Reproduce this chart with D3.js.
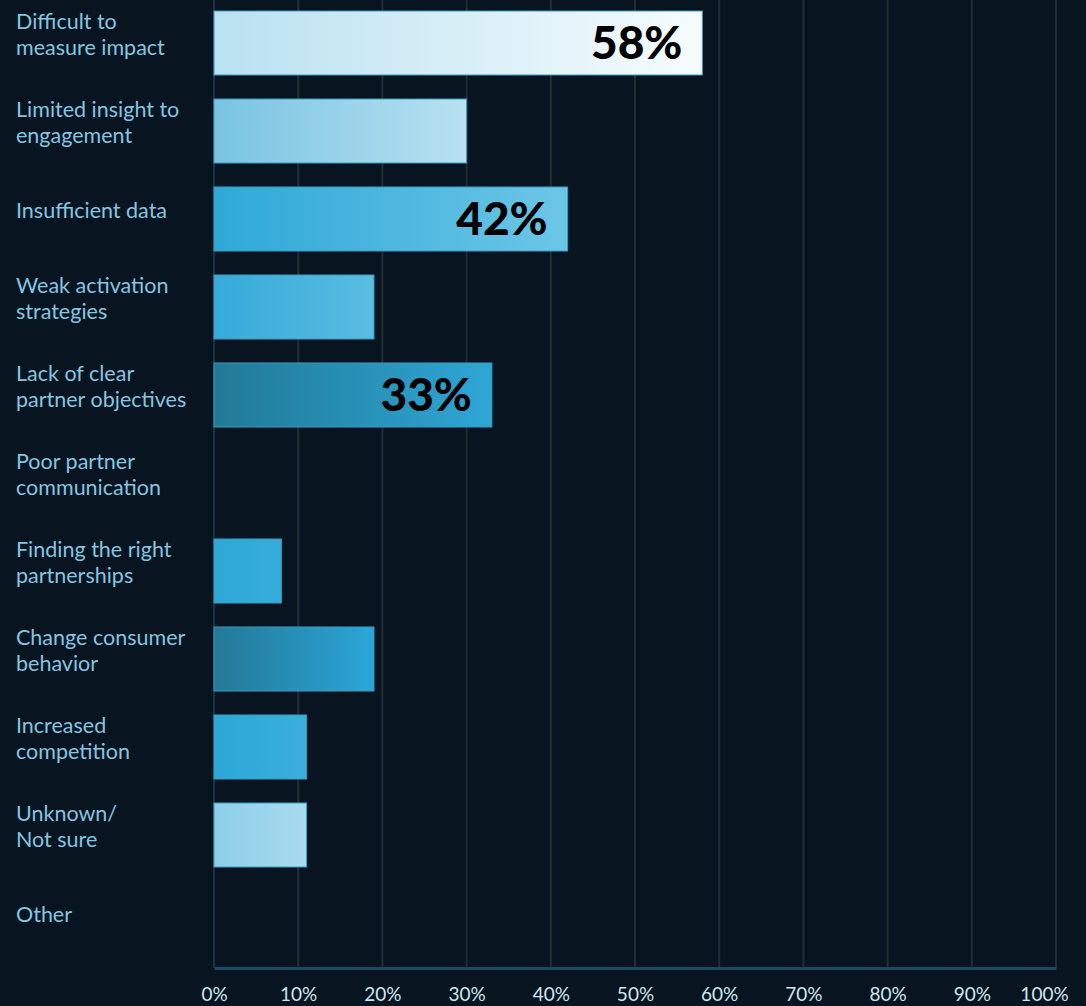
<!DOCTYPE html>
<head>
    <meta charset="utf-8">
    <title>Partnership challenges</title>
</head>
<script src="https://d3js.org/d3.v7.min.js"></script>

<div id="graph"></div>

<script>
    // categories, each label split into its lines
    var categories = [
        ["Difficult to", "measure impact"],
        ["Limited insight to", "engagement"],
        ["Insufficient data"],
        ["Weak activation", "strategies"],
        ["Lack of clear", "partner objectives"],
        ["Poor partner", "communication"],
        ["Finding the right", "partnerships"],
        ["Change consumer", "behavior"],
        ["Increased", "competition"],
        ["Unknown/", "Not sure"],
        ["Other"]
    ];
    var values = [58, 30, 42, 19, 33, 0, 8, 19, 11, 11, 0];
    // which bars carry a printed value
    var showValue = [true, false, true, false, true, false, false, false, false, false, false];
    // gradient start / end colour per bar
    var colorStart = ["#b9e1f0", "#79c4e2", "#2ea8d8", "#35aad9", "#217996", "#2aa3d6", "#2ea8d8", "#237896", "#2aa8d8", "#8dcfe9", "#8dcfe9"];
    var colorEnd   = ["#f6fcfe", "#b8e1f1", "#6cc6e6", "#5bbde2", "#2ea6d6", "#2aa3d6", "#36acda", "#2ba6da", "#3caedc", "#a9dbee", "#a9dbee"];
    var ticks = [0, 10, 20, 30, 40, 50, 60, 70, 80, 90, 100];

    var rows = categories.map(function(c, i) {
        return { i: i, lines: c, value: values[i], show: showValue[i] };
    });

    var W = 1086, H = 1006;
    var svg = d3.select("#graph").append("svg")
        .attr("width", W)
        .attr("height", H);

    svg.append("rect").attr("width", W).attr("height", H).attr("fill", "#08141f");

    var x = d3.scaleLinear().domain([0, 100]).range([214, 1056]);
    var y = d3.scaleBand()
        .domain(d3.range(categories.length))
        .range([11, 955])
        .paddingInner(0.2727)
        .paddingOuter(0);

    var axisY = 968;

    // gradients
    var defs = svg.append("defs");
    rows.forEach(function(r) {
        var g = defs.append("linearGradient").attr("id", "grad" + r.i)
            .attr("x1", "0%").attr("x2", "100%").attr("y1", "0%").attr("y2", "0%");
        g.append("stop").attr("offset", "0%").attr("stop-color", colorStart[r.i]);
        g.append("stop").attr("offset", "100%").attr("stop-color", colorEnd[r.i]);
    });

    // vertical grid lines
    svg.append("g").selectAll("line")
        .data(ticks.slice(1))
        .enter().append("line")
        .attr("x1", function(d) { return x(d); })
        .attr("x2", function(d) { return x(d); })
        .attr("y1", 0)
        .attr("y2", axisY)
        .attr("stroke", "#222e31")
        .attr("stroke-width", 2);

    // left axis line
    svg.append("line")
        .attr("x1", x(0)).attr("x2", x(0))
        .attr("y1", 0).attr("y2", axisY)
        .attr("stroke", "#123446")
        .attr("stroke-width", 2);

    // bottom axis
    var xAxis = d3.axisBottom(x)
        .tickValues(ticks)
        .tickSize(0)
        .tickPadding(20)
        .tickFormat(function(d) { return d + "%"; });

    var xGroup = svg.append("g")
        .attr("transform", "translate(0," + axisY + ")")
        .call(xAxis);
    xGroup.select(".domain").attr("stroke", "#1b4a63").attr("stroke-width", 3);
    xGroup.selectAll("text")
        .attr("fill", "#cde7f1")
        .style("font-family", "Lato, 'Noto Sans', sans-serif")
        .style("font-size", "19px");
    // last label sits inside the frame
    xGroup.selectAll(".tick").filter(function(d) { return d === 100; })
        .select("text").attr("x", -12);

    // bars
    svg.append("g").selectAll("rect")
        .data(rows.filter(function(r) { return r.value > 0; }))
        .enter().append("rect")
        .attr("x", x(0))
        .attr("y", function(d) { return y(d.i); })
        .attr("width", function(d) { return x(d.value) - x(0); })
        .attr("height", y.bandwidth())
        .attr("fill", function(d) { return "url(#grad" + d.i + ")"; })
        .attr("stroke", "#3a9cc4")
        .attr("stroke-width", 1);

    // value labels
    svg.append("g").selectAll("text")
        .data(rows.filter(function(r) { return r.show; }))
        .enter().append("text")
        .attr("x", function(d) { return x(d.value) - 20; })
        .attr("y", function(d) { return y(d.i) + y.bandwidth() / 2 + 16; })
        .attr("text-anchor", "end")
        .attr("fill", "#000")
        .style("font-family", "Lato, 'Noto Sans', sans-serif")
        .style("font-weight", 900)
        .style("font-size", "46px")
        .text(function(d) { return d.value + "%"; });

    // category labels
    var lab = svg.append("g").selectAll("text")
        .data(rows)
        .enter().append("text")
        .attr("y", function(d) {
            var c = y(d.i) + y.bandwidth() / 2 - 8;
            return c - (d.lines.length - 1) * 13 + 7;
        })
        .attr("fill", "#84c6e2")
        .style("font-family", "Lato, 'Noto Sans', sans-serif")
        .style("font-size", "21.5px");

    lab.selectAll("tspan")
        .data(function(d) { return d.lines; })
        .enter().append("tspan")
        .attr("x", 16)
        .attr("dy", function(d, j) { return j === 0 ? 0 : 26; })
        .text(function(d) { return d; });
</script>

<style>
    html, body {
        margin: 0;
        padding: 0;
        background: #08141f;
        overflow: hidden;
    }
</style>
